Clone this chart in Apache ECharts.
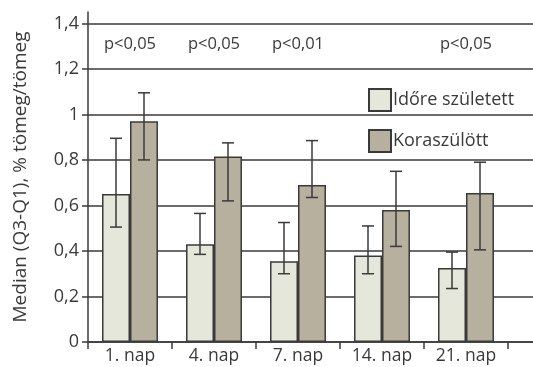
<!DOCTYPE html>
<html>
<head>
<meta charset="utf-8">
<script src="https://cdn.jsdelivr.net/npm/echarts@6/dist/echarts.min.js"></script>
<style>
  html, body { margin: 0; padding: 0; background: #fff; }
  #chart { width: 533px; height: 367px; }
</style>
</head>
<body>
<div id="chart"></div>
<script>
// Body-weight variability by day: term vs. preterm infants
const categories = ['1. nap', '4. nap', '7. nap', '14. nap', '21. nap'];
const seriesNames = ['Időre született', 'Koraszülött'];

// medians
const termMedian = [0.65, 0.43, 0.355, 0.38, 0.325];
const pretermMedian = [0.97, 0.815, 0.69, 0.58, 0.655];

// Q1 (low) and Q3 (high) whiskers
const termLow = [0.505, 0.385, 0.30, 0.30, 0.235];
const termHigh = [0.895, 0.565, 0.525, 0.51, 0.395];
const pretermLow = [0.80, 0.62, 0.635, 0.42, 0.405];
const pretermHigh = [1.095, 0.875, 0.885, 0.75, 0.79];

// significance labels (category index, text)
const pCategory = [0, 1, 2, 4];
const pText = ['p<0,05', 'p<0,05', 'p<0,01', 'p<0,05'];
const pLevel = 1.31;

const yTicks = [0, 0.2, 0.4, 0.6, 0.8, 1, 1.2, 1.4];

const FONT = '"Open Sans", "Noto Sans", sans-serif';
const INK = '#3a3a3a';

const chart = echarts.init(document.getElementById('chart'));

// x axis keeps one empty trailing slot so the frame runs past the last group
const axisCategories = categories.concat(['']);

function errorSeries(name, low, high, barIndex) {
  return {
    name: name + ' Q',
    type: 'custom',
    z: 5,
    data: low.map((l, i) => [i, l, high[i]]),
    renderItem: function (params, api) {
      const i = api.value(0);
      const lowPt = api.coord([i, api.value(1)]);
      const highPt = api.coord([i, api.value(2)]);
      const band = api.size([1, 0])[0];
      const barW = band / 3;
      const x = lowPt[0] + (barIndex === 0 ? -barW / 2 : barW / 2);
      const cap = 6;
      const style = { stroke: INK, lineWidth: 1.5 };
      return {
        type: 'group',
        children: [
          { type: 'line', shape: { x1: x, y1: lowPt[1], x2: x, y2: highPt[1] }, style },
          { type: 'line', shape: { x1: x - cap, y1: lowPt[1], x2: x + cap, y2: lowPt[1] }, style },
          { type: 'line', shape: { x1: x - cap, y1: highPt[1], x2: x + cap, y2: highPt[1] }, style }
        ]
      };
    }
  };
}

const option = {
  animation: false,
  backgroundColor: '#fff',
  textStyle: { fontFamily: FONT },
  grid: { left: 88, top: 12, width: 504, bottom: 25, outerBoundsMode: 'none' },
  legend: {
    data: seriesNames,
    orient: 'vertical',
    left: 363,
    top: 83,
    icon: 'rect',
    itemWidth: 22,
    itemHeight: 22,
    itemGap: 17,
    textStyle: { fontFamily: FONT, fontSize: 18, color: INK, padding: [0, 0, 0, -3] }
  },
  xAxis: {
    type: 'category',
    data: axisCategories,
    axisLine: { lineStyle: { color: INK, width: 1.5 } },
    axisTick: { show: true, length: 7, inside: false, lineStyle: { color: INK, width: 1.5 } },
    axisLabel: { fontFamily: FONT, fontSize: 17.5, color: INK, margin: 5, interval: 0 }
  },
  yAxis: {
    type: 'value',
    min: 0,
    max: 1.45,
    interval: 0.2,
    name: 'Median (Q3-Q1), % tömeg/tömeg',
    nameLocation: 'middle',
    nameGap: 58,
    nameTextStyle: { fontFamily: FONT, fontSize: 19, color: INK },
    axisLine: { show: true, lineStyle: { color: INK, width: 1.5 } },
    axisTick: { show: true, length: 6, customValues: yTicks, lineStyle: { color: INK, width: 1.5 } },
    axisLabel: {
      customValues: yTicks,
      fontFamily: FONT, fontSize: 18, color: INK, margin: 9,
      formatter: v => String(+v.toFixed(1)).replace('.', ',')
    },
    splitLine: { show: true, lineStyle: { color: INK, width: 1.5 } }
  },
  series: [
    {
      name: seriesNames[0],
      type: 'bar',
      data: termMedian,
      barWidth: '33.3%',
      barGap: '0%',
      itemStyle: { color: '#e4e7d9', borderColor: INK, borderWidth: 1.5 }
    },
    {
      name: seriesNames[1],
      type: 'bar',
      data: pretermMedian,
      barWidth: '33.3%',
      barGap: '0%',
      itemStyle: { color: '#b8b09f', borderColor: INK, borderWidth: 1.5 }
    },
    errorSeries(seriesNames[0], termLow, termHigh, 0),
    errorSeries(seriesNames[1], pretermLow, pretermHigh, 1),
    {
      name: 'p',
      type: 'scatter',
      symbolSize: 0,
      itemStyle: { opacity: 1 },
      data: pCategory.map((c, i) => ({ value: [c, pLevel], text: pText[i] })),
      label: {
        show: true,
        position: 'inside',
        formatter: p => p.data.text,
        fontFamily: FONT, fontSize: 16.5, color: INK
      },
      silent: true
    }
  ]
};

chart.setOption(option);
</script>
</body>
</html>
